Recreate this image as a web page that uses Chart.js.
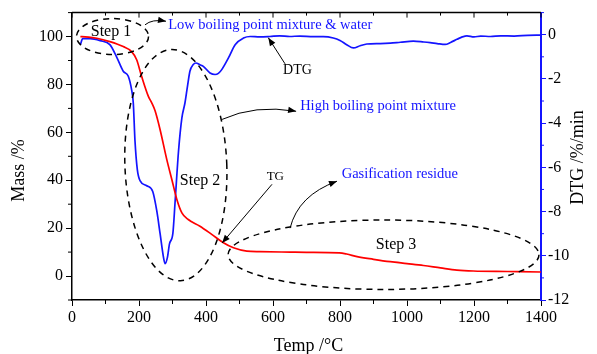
<!DOCTYPE html>
<html>
<head>
<meta charset="utf-8">
<title>TG / DTG</title>
<script src="https://cdn.jsdelivr.net/npm/chart.js@4.4.0/dist/chart.umd.min.js"></script>
<style>
    html, body { margin: 0; padding: 0; background: #fff; }
    #wrap { width: 597px; height: 354px; position: relative; }
</style>
</head>
<body>
<div id="wrap"><canvas id="tgChart"></canvas></div>
<script>
// TG curve (mass %, left axis)
const tgTemp = [25, 30, 74, 113, 153, 178, 193, 208, 228, 238, 248, 263, 283, 298, 313, 328, 347, 382, 417, 452, 482, 522, 560, 651, 700, 798, 820, 851, 900, 950, 1000, 1049, 1100, 1149, 1198, 1300, 1400];
const tgMass = [100, 100, 99.3, 97.9, 95.8, 93.7, 90.3, 83.3, 75, 72.3, 69, 61.1, 48.6, 40.3, 32, 26.4, 23.6, 20.8, 17.4, 13.9, 11.8, 10.4, 10.2, 10, 9.9, 9.7, 9.2, 8.1, 7.0, 6.0, 5.2, 4.4, 3.4, 2.5, 2.1, 1.9, 1.7];

// DTG curve (%/min, right axis)
const dtgTemp = [25, 32, 54, 84, 113, 133, 153, 168, 178, 183, 188, 195, 203, 223, 241, 253, 263, 273, 278, 285, 291, 301, 308, 318, 328, 337, 345, 352, 362, 370, 382, 392, 412, 427, 437, 447, 467, 487, 512, 532, 560, 591, 620, 650, 680, 720, 750, 780, 800, 820, 840, 860, 880, 920, 950, 980, 1019, 1050, 1069, 1090, 1114, 1130, 1149, 1165, 1179, 1200, 1220, 1249, 1280, 1320, 1360, 1400];
const dtgRate = [-0.45, -0.18, -0.18, -0.27, -0.45, -1.0, -1.65, -1.88, -2.5, -3.1, -4.8, -6.1, -6.6, -6.83, -7.09, -7.96, -9.0, -10.06, -10.36, -10.06, -9.46, -9.0, -7.5, -5.26, -3.76, -3.1, -2.3, -1.65, -1.35, -1.28, -1.36, -1.43, -1.73, -1.8, -1.75, -1.58, -1.05, -0.45, -0.15, -0.08, -0.1, -0.08, -0.05, -0.08, -0.06, -0.09, -0.09, -0.15, -0.26, -0.45, -0.6, -0.5, -0.42, -0.4, -0.38, -0.34, -0.29, -0.33, -0.36, -0.4, -0.44, -0.35, -0.21, -0.1, -0.05, -0.1, -0.06, -0.08, -0.05, -0.06, -0.03, -0.02];

// Tick labels
const tempTicks = [0, 200, 400, 600, 800, 1000, 1200, 1400];
const massTicks = [0, 20, 40, 60, 80, 100];
const dtgTicks = [-12, -10, -8, -6, -4, -2, 0];
const tempMinor = [100, 300, 500, 700, 900, 1100, 1300];
const massMinor = [-10, 10, 30, 50, 70, 90, 110];
const dtgMinor = [-11, -9, -7, -5, -3, -1, 1];

const SERIF = "'Liberation Serif', 'Times New Roman', serif";
const BLUE = '#1414ff';

// Annotations, placed in data units (temp, mass)
const ellipses = [
    { x: 121, y: 100, rx: 107.5, ry: 7.5, rot: 0 },
    { x: 310, y: 46.3, rx: 152, ry: 48.3, rot: -0.04 },
    { x: 930, y: 8.9, rx: 464, ry: 14.5, rot: 0 }
];
const arrows = [
    { from: [218, 104.9], ctrl: [238.8, 107.4], to: [280.6, 106.4] },
    { from: [636, 88.6], to: [586, 99.5] },
    { from: [448, 65.4], ctrl: [546, 71.7], to: [669, 68.8] },
    { from: [597, 38.3], to: [448, 13.8] },
    { from: [651, 20], ctrl: [675, 33.7], to: [791, 39.6] }
];
const notes = [
    { text: 'Step 1', x: 56, y: 100.3, size: 16, color: '#000' },
    { text: 'Low boiling point mixture & water', x: 287, y: 103, size: 14.5, color: BLUE },
    { text: 'DTG', x: 630, y: 84.2, size: 14, color: '#000' },
    { text: 'High boiling point mixture', x: 681, y: 69.2, size: 14.5, color: BLUE },
    { text: 'Step 2', x: 322, y: 38.2, size: 16, color: '#000' },
    { text: 'TG', x: 581, y: 40.3, size: 13, color: '#000' },
    { text: 'Gasification residue', x: 805, y: 41.1, size: 14.5, color: BLUE },
    { text: 'Step 3', x: 907, y: 11.1, size: 16, color: '#000' }
];

function drawHead(ctx, fx, fy, tx, ty) {
    const ang = Math.atan2(ty - fy, tx - fx);
    const len = 8, half = 3.2;
    ctx.beginPath();
    ctx.moveTo(tx, ty);
    ctx.lineTo(tx - len * Math.cos(ang) + half * Math.sin(ang), ty - len * Math.sin(ang) - half * Math.cos(ang));
    ctx.lineTo(tx - len * Math.cos(ang) - half * Math.sin(ang), ty - len * Math.sin(ang) + half * Math.cos(ang));
    ctx.closePath();
    ctx.fill();
}

const annotate = {
    id: 'annotate',
    afterDatasetsDraw(chart) {
        const { ctx, chartArea: area, scales } = chart;
        const x = scales.x, y = scales.y, y2 = scales.y2;
        const px = v => x.getPixelForValue(v);
        const py = v => y.getPixelForValue(v);
        ctx.save();

        // top frame with inward ticks
        ctx.strokeStyle = '#000';
        ctx.lineWidth = 1.5;
        ctx.beginPath();
        ctx.moveTo(area.left, area.top);
        ctx.lineTo(area.right, area.top);
        ctx.stroke();
        ctx.lineWidth = 1;
        ctx.beginPath();
        tempTicks.forEach(v => { ctx.moveTo(px(v), area.top); ctx.lineTo(px(v), area.top + 5); });
        tempMinor.forEach(v => { ctx.moveTo(px(v), area.top); ctx.lineTo(px(v), area.top + 3); });
        // minor ticks on bottom and left
        tempMinor.forEach(v => { ctx.moveTo(px(v), area.bottom); ctx.lineTo(px(v), area.bottom + 4); });
        massMinor.forEach(v => { ctx.moveTo(area.left, py(v)); ctx.lineTo(area.left - 4, py(v)); });
        ctx.stroke();
        ctx.strokeStyle = BLUE;
        ctx.beginPath();
        dtgMinor.forEach(v => { ctx.moveTo(area.right, y2.getPixelForValue(v)); ctx.lineTo(area.right + 3, y2.getPixelForValue(v)); });
        ctx.stroke();

        // dashed ellipses
        ctx.strokeStyle = '#000';
        ctx.lineWidth = 1.5;
        ctx.setLineDash([6, 5]);
        ellipses.forEach(e => {
            ctx.beginPath();
            ctx.ellipse(px(e.x), py(e.y), Math.abs(px(e.x + e.rx) - px(e.x)), Math.abs(py(e.y + e.ry) - py(e.y)), e.rot, 0, Math.PI * 2);
            ctx.stroke();
        });
        ctx.setLineDash([]);

        // arrows
        ctx.lineWidth = 1;
        ctx.fillStyle = '#000';
        arrows.forEach(a => {
            const fx = px(a.from[0]), fy = py(a.from[1]);
            const tx = px(a.to[0]), ty = py(a.to[1]);
            ctx.beginPath();
            ctx.moveTo(fx, fy);
            let bx = fx, by = fy;
            if (a.ctrl) {
                bx = px(a.ctrl[0]); by = py(a.ctrl[1]);
                ctx.quadraticCurveTo(bx, by, tx, ty);
            } else {
                ctx.lineTo(tx, ty);
            }
            ctx.stroke();
            drawHead(ctx, bx, by, tx, ty);
        });

        // text labels
        ctx.textBaseline = 'alphabetic';
        ctx.textAlign = 'left';
        notes.forEach(n => {
            ctx.font = n.size + 'px ' + SERIF;
            ctx.fillStyle = n.color;
            ctx.fillText(n.text, px(n.x), py(n.y));
        });

        // axis titles
        ctx.fillStyle = '#000';
        ctx.font = '18px ' + SERIF;
        ctx.textAlign = 'center';
        ctx.textBaseline = 'middle';
        ctx.fillText('Temp /°C', (area.left + area.right) / 2 + 2, area.bottom + 46);
        ctx.save();
        ctx.translate(19, area.top + 158);
        ctx.rotate(-Math.PI / 2);
        ctx.fillText('Mass /%', 0, 0);
        ctx.restore();
        ctx.save();
        ctx.translate(area.right + 37, area.top + 145);
        ctx.rotate(-Math.PI / 2);
        ctx.fillText('DTG /%/min', 0, 0);
        ctx.restore();

        ctx.restore();
    }
};

const toPoints = (xs, ys) => xs.map((v, i) => ({ x: v, y: ys[i] }));
const setTicks = list => axis => { axis.ticks = list.map(v => ({ value: v })); };
const plainLabel = v => String(v);

new Chart(document.getElementById('tgChart'), {
    type: 'line',
    data: {
        datasets: [
            {
                label: 'TG',
                data: toPoints(tgTemp, tgMass),
                yAxisID: 'y',
                borderColor: '#ff0000',
                borderWidth: 1.7,
                pointRadius: 0,
                cubicInterpolationMode: 'monotone'
            },
            {
                label: 'DTG',
                data: toPoints(dtgTemp, dtgRate),
                yAxisID: 'y2',
                borderColor: BLUE,
                borderWidth: 1.7,
                pointRadius: 0,
                cubicInterpolationMode: 'monotone'
            }
        ]
    },
    options: {
        responsive: true,
        maintainAspectRatio: false,
        animation: false,
        layout: { padding: { top: 12, left: 0, right: 0, bottom: 0 } },
        plugins: {
            legend: { display: false },
            tooltip: { enabled: false }
        },
        scales: {
            x: {
                type: 'linear',
                min: 0,
                max: 1400,
                afterBuildTicks: setTicks(tempTicks),
                afterFit: s => { s.height = 54; },
                border: { color: '#000', width: 1.5 },
                grid: { display: true, drawOnChartArea: false, drawTicks: true, tickLength: 6, color: '#000' },
                ticks: { color: '#000', padding: 2, maxRotation: 0, callback: plainLabel, font: { family: SERIF, size: 16 } }
            },
            y: {
                position: 'left',
                min: -10,
                max: 110,
                afterBuildTicks: setTicks(massTicks),
                afterFit: s => { s.width = 72; },
                border: { color: '#000', width: 1.5 },
                grid: { display: true, drawOnChartArea: false, drawTicks: true, tickLength: 6, color: '#000' },
                ticks: { color: '#000', padding: 3, callback: plainLabel, font: { family: SERIF, size: 16 } }
            },
            y2: {
                position: 'right',
                min: -12,
                max: 1,
                afterBuildTicks: setTicks(dtgTicks),
                afterFit: s => { s.width = 56; },
                border: { color: BLUE, width: 2 },
                grid: { display: true, drawOnChartArea: false, drawTicks: true, tickLength: 5, color: BLUE },
                ticks: { color: '#000', padding: 2, callback: plainLabel, font: { family: SERIF, size: 16 } }
            }
        }
    },
    plugins: [annotate]
});
</script>
</body>
</html>
